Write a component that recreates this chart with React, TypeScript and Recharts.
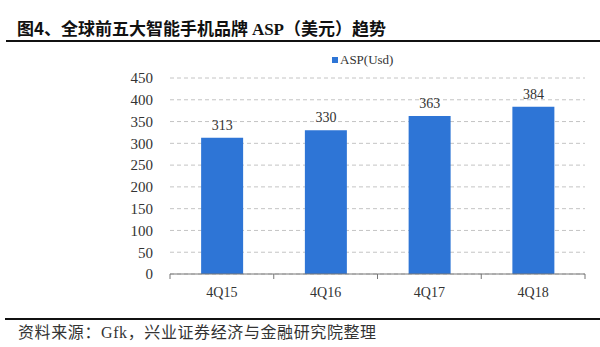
import React from 'react';
import { BarChart, Bar, XAxis, YAxis, CartesianGrid, LabelList } from 'recharts';

const quarters = ['4Q15', '4Q16', '4Q17', '4Q18'];
const asp = [313, 330, 363, 384];
const yTicks = [0, 50, 100, 150, 200, 250, 300, 350, 400, 450];

const data = quarters.map((q, i) => ({ quarter: q, asp: asp[i] }));

const BLUE = '#2E75D6';
const serif = '"Liberation Serif", "Times New Roman", serif';

// axis ticks sit on the band boundaries, not on the category centres
const QuarterTick = (props: any) => {
  const { x, y, payload, index, width } = props;
  const half = payload?.offset || (width ? width / quarters.length / 2 : 52);
  const isLast = index === quarters.length - 1;
  return (
    <g>
      <line x1={x - half} x2={x - half} y1={y - 8} y2={y - 3} stroke="#777" />
      {isLast && <line x1={x + half} x2={x + half} y1={y - 8} y2={y - 3} stroke="#777" />}
      <text x={x} y={y + 15} textAnchor="middle" fontFamily={serif} fontSize={14} fill="#333">
        {payload.value}
      </text>
    </g>
  );
};

export default function App() {
  return (
    <div style={{ position: 'fixed', left: 0, top: 0, width: 600, height: 347, background: '#fff', overflow: 'hidden' }}>
      <div
        style={{
          position: 'absolute', left: 17, top: 15, fontSize: 17, fontWeight: 'bold', color: '#111',
          fontFamily: '"Noto Sans CJK SC", serif', whiteSpace: 'nowrap', lineHeight: '26px',
        }}
      >
        图4、全球前五大智能手机品牌 <span style={{ fontFamily: serif }}>ASP</span>（美元）趋势
      </div>
      <div style={{ position: 'absolute', left: 6, right: 0, top: 40, height: 2, background: '#111' }} />
      <div
        style={{
          position: 'absolute', left: 332, top: 52, display: 'flex', alignItems: 'center',
          fontFamily: serif, fontSize: 13, color: '#333', lineHeight: '16px',
        }}
      >
        <span style={{ width: 6, height: 6, background: BLUE, marginRight: 2, display: 'inline-block' }} />
        ASP(Usd)
      </div>
      <div style={{ position: 'absolute', left: 0, top: 0 }}>
        <BarChart width={600} height={347} data={data} margin={{ top: 78, right: 15, bottom: 43, left: 110 }} barCategoryGap="30%">
          <CartesianGrid vertical={false} stroke="#c4c4c4" strokeDasharray="4 3" />
          <XAxis dataKey="quarter" height={30} axisLine={{ stroke: '#777' }} tickLine={false} tick={<QuarterTick />} interval={0} />
          <YAxis
            width={60}
            domain={[0, 450]}
            ticks={yTicks}
            interval={0}
            axisLine={false}
            tickLine={false}
            tickMargin={11}
            tick={{ fontFamily: serif, fontSize: 15, fill: '#333' }}
          />
          <Bar dataKey="asp" name="ASP(Usd)" fill={BLUE} isAnimationActive={false}>
            <LabelList dataKey="asp" position="top" offset={8} style={{ fontFamily: serif, fontSize: 14, fill: '#333' }} />
          </Bar>
        </BarChart>
      </div>
      <div style={{ position: 'absolute', left: 5, right: 0, top: 318, height: 2, background: '#111' }} />
      <div
        style={{
          position: 'absolute', left: 18, top: 321, fontSize: 16, color: '#333', lineHeight: '20px',
          fontFamily: '"Noto Sans CJK SC", serif', whiteSpace: 'nowrap', letterSpacing: 0.6,
        }}
      >
        资料来源：<span style={{ fontFamily: serif }}>Gfk</span>，兴业证券经济与金融研究院整理
      </div>
    </div>
  );
}
